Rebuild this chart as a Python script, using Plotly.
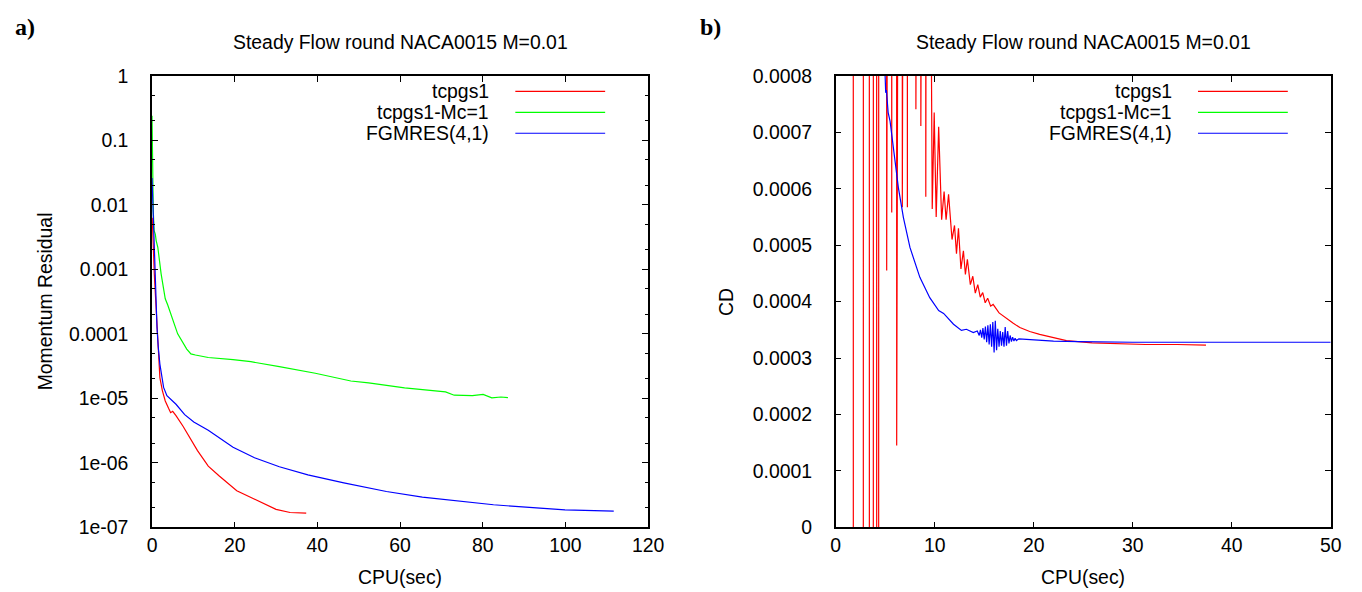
import plotly.graph_objects as go

# ---------------- data: panel a) momentum residual vs CPU ----------------
res_tcpgs1_x = [0.05, 0.3, 0.55, 0.9, 1.2, 1.5, 1.9, 2.5, 3.2, 4.0, 4.5, 5.0, 5.8, 7.5, 9.2,
                11.0, 13.6, 16.2, 20.5, 23.9, 27.4, 30.0, 33.4, 37.3]
res_tcpgs1_y = [6.3e-3, 2.0e-3, 8.5e-4, 3.2e-4, 1.26e-4, 5.5e-5, 2.1e-5, 1.32e-5, 9.1e-6, 7.0e-6,
                6.0e-6, 6.3e-6, 5.4e-6, 3.7e-6, 2.45e-6, 1.55e-6, 8.9e-7, 6.3e-7, 3.7e-7, 2.9e-7,
                2.3e-7, 1.9e-7, 1.7e-7, 1.66e-7]

res_mc_x = [0.0, 0.1, 0.3, 0.5, 0.8, 1.0, 1.4, 2.2, 3.2, 3.8, 5.8, 6.2, 8.4, 9.4, 10.5, 13.6,
            19.6, 23.9, 30.8, 39.5, 48.1, 52.4, 61.1, 69.7, 71.0, 73.1, 77.5, 80.1, 82.2, 84.4, 86.1]
res_mc_y = [0.24, 0.05, 8.0e-3, 4.0e-3, 3.5e-3, 2.8e-3, 2.2e-3, 8.5e-4, 3.5e-4, 2.8e-4, 1.12e-4,
            1.0e-4, 5.8e-5, 4.9e-5, 4.7e-5, 4.3e-5, 4.0e-5, 3.7e-5, 3.1e-5, 2.45e-5, 1.86e-5,
            1.74e-5, 1.45e-5, 1.26e-5, 1.26e-5, 1.12e-5, 1.10e-5, 1.15e-5, 1.02e-5, 1.05e-5, 1.03e-5]

res_fgmres_x = [0.0, 0.2, 0.4, 0.8, 1.0, 1.2, 1.5, 1.9, 2.8, 3.6, 5.8, 7.9, 10.1, 13.6, 19.6,
                24.8, 30.8, 37.7, 46.4, 56.7, 65.4, 74.0, 82.6, 91.3, 99.9, 111.7]
res_fgmres_y = [0.026, 0.01, 4.5e-3, 4.2e-4, 3.2e-4, 1.26e-4, 6.3e-5, 3.4e-5, 1.48e-5, 1.1e-5,
                8.1e-6, 5.6e-6, 4.3e-6, 3.2e-6, 1.74e-6, 1.2e-6, 8.7e-7, 6.5e-7, 4.9e-7, 3.6e-7,
                2.95e-7, 2.6e-7, 2.24e-7, 2.04e-7, 1.86e-7, 1.78e-7]

# ---------------- data: panel b) CD vs CPU ----------------
cd_tcpgs1_x = [1.74, 1.82, 2.75, 2.83, 3.36, 3.44, 3.76, 3.84, 4.10, 4.18, 4.30, 4.38,
               5.10, 5.15, 5.20, 5.61, 5.66, 5.71, 6.12, 6.16, 6.20, 6.69, 6.73, 6.77,
               7.20, 7.24, 7.28, 8.05, 8.10, 8.15, 8.55, 8.60, 8.65, 9.05, 9.10, 9.20,
               9.55, 9.75, 9.95, 10.15, 10.40, 10.70, 10.95, 11.15, 11.40, 11.75, 12.00,
               12.20, 12.40, 12.65, 12.90, 13.10, 13.30, 13.60, 13.85, 14.10, 14.35, 14.60,
               14.85, 15.10, 15.35, 15.65, 15.90, 16.5, 17.3, 17.9, 18.6, 19.6, 20.6, 21.5,
               23.3, 25.9, 28.5, 31.3, 34.5, 37.4]
cd_tcpgs1_y = [0.01, -0.01, -0.01, 0.01, 0.01, -0.01, -0.01, 0.01, 0.01, -0.01, -0.01, 0.01,
               4.0e-3, 4.55e-4, 4.0e-3, 4.0e-3, 5.58e-4, 4.0e-3, 6.0e-3, 1.45e-4, 6.0e-3,
               4.0e-3, 5.67e-4, 4.0e-3, 4.0e-3, 5.67e-4, 4.0e-3, 3.0e-3, 7.41e-4, 3.0e-3,
               3.0e-3, 7.11e-4, 3.0e-3, 3.0e-3, 5.86e-4, 2.0e-3,
               1.2e-3, 5.64e-4, 7.35e-4, 5.50e-4, 7.10e-4, 5.45e-4, 5.95e-4, 5.45e-4, 5.90e-4,
               5.10e-4, 5.35e-4, 4.85e-4, 5.30e-4, 4.58e-4, 4.90e-4, 4.48e-4, 4.75e-4, 4.30e-4,
               4.45e-4, 4.15e-4, 4.30e-4, 4.08e-4, 4.16e-4, 3.98e-4, 4.06e-4, 3.92e-4, 3.95e-4,
               3.80e-4, 3.69e-4, 3.62e-4, 3.54e-4, 3.47e-4, 3.42e-4, 3.38e-4, 3.31e-4, 3.27e-4,
               3.25e-4, 3.24e-4, 3.24e-4, 3.23e-4]

cd_fgmres_x = [4.80, 5.05, 5.12, 5.30, 5.49, 5.82, 6.33, 6.84, 7.50, 8.50, 9.50, 10.4, 10.9,
               11.9, 12.7, 13.2, 13.9, 14.3, 14.50, 14.62, 14.75, 14.87, 15.00, 15.12, 15.25,
               15.37, 15.50, 15.62, 15.75, 15.87, 16.00, 16.12, 16.25, 16.37, 16.50, 16.62,
               16.75, 16.87, 17.00, 17.12, 17.25, 17.37, 17.50, 17.62, 17.75, 17.87, 18.00,
               18.12, 18.25, 18.5, 19.6, 22.0, 24.6, 30.0, 40.0, 50.0]
cd_fgmres_y = [9.0e-4, 7.70e-4, 7.75e-4, 7.35e-4, 7.20e-4, 6.73e-4, 6.02e-4, 5.49e-4, 4.96e-4,
               4.43e-4, 4.07e-4, 3.84e-4, 3.79e-4, 3.60e-4, 3.49e-4, 3.51e-4, 3.45e-4, 3.48e-4,
               3.40e-4, 3.50e-4, 3.36e-4, 3.53e-4, 3.33e-4, 3.56e-4, 3.28e-4, 3.58e-4, 3.24e-4,
               3.60e-4, 3.20e-4, 3.64e-4, 3.10e-4, 3.66e-4, 3.14e-4, 3.52e-4, 3.20e-4, 3.48e-4,
               3.22e-4, 3.46e-4, 3.20e-4, 3.55e-4, 3.22e-4, 3.48e-4, 3.26e-4, 3.40e-4, 3.29e-4,
               3.37e-4, 3.30e-4, 3.35e-4, 3.31e-4, 3.34e-4, 3.33e-4, 3.30e-4, 3.29e-4, 3.28e-4,
               3.28e-4, 3.28e-4]

# ---------------- ticks / labels ----------------
res_tickvals = [1e-7, 1e-6, 1e-5, 1e-4, 1e-3, 1e-2, 1e-1, 1]
res_ticktext = ["1e-07", "1e-06", "1e-05", "0.0001", "0.001", "0.01", "0.1", "1"]
res_minorvals = [m * 10.0 ** e for e in range(-7, 0) for m in (2, 5)]
cpu_a_ticks = [0, 20, 40, 60, 80, 100, 120]
cd_tickvals = [0, 1e-4, 2e-4, 3e-4, 4e-4, 5e-4, 6e-4, 7e-4, 8e-4]
cd_ticktext = ["0", "0.0001", "0.0002", "0.0003", "0.0004", "0.0005", "0.0006", "0.0007", "0.0008"]
cpu_b_ticks = [0, 10, 20, 30, 40, 50]

series_names = ["tcpgs1", "tcpgs1-Mc=1", "FGMRES(4,1)"]
series_colors = ["#ff0000", "#00ff00", "#0000ff"]
title_text = "Steady Flow round NACA0015 M=0.01"

W, H = 1362, 592
FONT = "Liberation Sans, Arial, sans-serif"
FS = 19.4

# mapping from target page pixels to figure pixels (measured from earlier renders)
AX, BX = 11.7, 0.9865
AY, BY = 17.5, 0.965

def px_x(p):
    return ((p - AX) / BX) / W

def px_y(p):
    return 1 - ((p - AY) / BY) / H

# plot-area geometry (target pixels)
A_L, A_R = 151, 648
B_L, B_R = 836, 1332
TOP, BOT = 74.5, 527

fig = go.Figure()
fig.add_trace(go.Scatter(x=res_tcpgs1_x, y=res_tcpgs1_y, mode="lines", name=series_names[0],
                         line=dict(color=series_colors[0], width=1.2), xaxis="x", yaxis="y"))
fig.add_trace(go.Scatter(x=res_mc_x, y=res_mc_y, mode="lines", name=series_names[1],
                         line=dict(color=series_colors[1], width=1.2), xaxis="x", yaxis="y"))
fig.add_trace(go.Scatter(x=res_fgmres_x, y=res_fgmres_y, mode="lines", name=series_names[2],
                         line=dict(color=series_colors[2], width=1.2), xaxis="x", yaxis="y"))
fig.add_trace(go.Scatter(x=cd_tcpgs1_x, y=cd_tcpgs1_y, mode="lines", name=series_names[0],
                         line=dict(color=series_colors[0], width=1.2), xaxis="x2", yaxis="y2"))
fig.add_trace(go.Scatter(x=cd_fgmres_x, y=cd_fgmres_y, mode="lines", name=series_names[2],
                         line=dict(color=series_colors[2], width=1.2), xaxis="x2", yaxis="y2"))

axis_common = dict(showline=True, linecolor="black", linewidth=1.5, mirror="ticks",
                   ticks="inside", ticklen=6, tickwidth=1, tickcolor="black",
                   showgrid=False, zeroline=False,
                   tickfont=dict(family=FONT, size=FS, color="black"))

fig.update_layout(
    width=W, height=H,
    margin=dict(l=0, r=0, t=0, b=0),
    paper_bgcolor="white", plot_bgcolor="white",
    showlegend=False,
    font=dict(family=FONT, size=FS, color="black"),
    xaxis=dict(domain=[px_x(A_L), px_x(A_R)], range=[0, 120], anchor="y",
               tickmode="array", tickvals=cpu_a_ticks, ticklabelstandoff=0, **axis_common),
    yaxis=dict(domain=[px_y(BOT), px_y(TOP)], type="log", range=[-7, 0], anchor="x",
               tickmode="array", tickvals=res_tickvals, ticktext=res_ticktext,
               ticklabelstandoff=18,
               minor=dict(tickmode="array", tickvals=res_minorvals, ticks="inside",
                          ticklen=3, tickcolor="black", showgrid=False),
               **axis_common),
    xaxis2=dict(domain=[px_x(B_L), px_x(B_R)], range=[0, 50], anchor="y2",
                tickmode="array", tickvals=cpu_b_ticks, ticklabelstandoff=0, **axis_common),
    yaxis2=dict(domain=[px_y(BOT), px_y(TOP)], range=[0, 8e-4], anchor="x2",
                tickmode="array", tickvals=cd_tickvals, ticktext=cd_ticktext,
                ticklabelstandoff=18, **axis_common),
)

ann = []
# panel letters
ann.append(dict(text="<b>a)</b>", x=0.0, y=px_y(26), xanchor="left", yanchor="middle",
                font=dict(family="Liberation Serif, Times New Roman, serif", size=24)))
ann.append(dict(text="<b>b)</b>", x=px_x(698), y=px_y(26), xanchor="left", yanchor="middle",
                font=dict(family="Liberation Serif, Times New Roman, serif", size=24)))
# titles
for l, r in ((A_L, A_R), (B_L, B_R)):
    ann.append(dict(text=title_text, x=px_x((l + r) / 2), y=px_y(41), xanchor="center",
                    yanchor="middle", font=dict(size=FS)))
    ann.append(dict(text="CPU(sec)", x=px_x((l + r) / 2), y=px_y(577), xanchor="center",
                    yanchor="middle", font=dict(size=FS)))
# y titles
ann.append(dict(text="Momentum Residual", x=px_x(43.5), y=px_y((TOP + BOT) / 2), textangle=-90,
                xanchor="center", yanchor="middle", font=dict(size=FS)))
ann.append(dict(text="CD", x=px_x(725.5), y=px_y((TOP + BOT) / 2), textangle=-90,
                xanchor="center", yanchor="middle", font=dict(size=FS)))

shapes = []
row_y = [90, 111, 132]
for right in (A_R, B_R):
    for name, col, yy in zip(series_names, series_colors, row_y):
        ann.append(dict(text=name, x=px_x(right - 157), y=px_y(yy), xanchor="right",
                        yanchor="middle", font=dict(size=FS)))
        shapes.append(dict(type="line", xref="paper", yref="paper",
                           x0=px_x(right - 133), x1=px_x(right - 43),
                           y0=px_y(yy), y1=px_y(yy), line=dict(color=col, width=1.2)))

for a in ann:
    a.update(xref="paper", yref="paper", showarrow=False)
fig.update_layout(annotations=ann, shapes=shapes)

fig.write_html("out.html")
